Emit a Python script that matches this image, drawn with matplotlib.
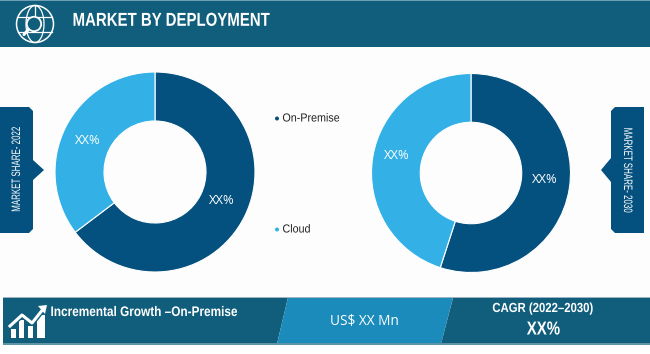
import matplotlib
matplotlib.use("Agg")
import matplotlib.pyplot as plt
from matplotlib.patches import Polygon, Circle, Ellipse
from matplotlib.patheffects import AbstractPathEffect
from matplotlib.transforms import Affine2D

categories = ['On-Premise', 'Cloud']
share_2022 = [64.7, 35.3]
share_2030 = [55.0, 45.0]
slice_labels = ['XX%', 'XX%']
title = 'MARKET BY DEPLOYMENT'
left_tag = 'MARKET SHARE- 2022'
right_tag = 'MARKET SHARE- 2030'
growth_label = 'Incremental Growth \u2013On-Premise'
value_label = 'US$ XX Mn'
cagr_label = 'CAGR (2022\u20132030)'
cagr_value = 'XX%'

DARK = '#04517F'
LIGHT = '#33B1E6'
BAND = '#105E7C'
MID = '#1A8BBB'
W, H = 650, 354
SANS = 'Liberation Sans'


class Condense(AbstractPathEffect):
    """Draws real text narrower along its own baseline, about its centre."""
    def __init__(self, sx):
        super().__init__()
        self.sx = sx

    def draw_path(self, renderer, gc, tpath, affine, rgbFace=None):
        ext = tpath.get_extents()
        mid = (ext.x0 + ext.x1) / 2
        local = Affine2D().translate(-mid, 0).scale(self.sx, 1).translate(mid, 0)
        renderer.draw_path(gc, tpath, local + affine, rgbFace)


fig = plt.figure(figsize=(W/100, H/100), dpi=100, facecolor='#FDFDFD')
bg = fig.add_axes([0, 0, 1, 1])
bg.set_xlim(0, W); bg.set_ylim(H, 0); bg.axis('off')


def poly(pts, color, z=1):
    bg.add_patch(Polygon(pts, closed=True, facecolor=color, edgecolor='none', zorder=z))


def ntext(x, y, s, size, sx, weight='normal', color='white', rotation=0):
    bg.text(x, y, s, color=color, fontsize=size, fontweight=weight, family=SANS,
            va='center', ha='center', rotation=rotation, zorder=6,
            path_effects=[Condense(sx)])


# page strip
poly([(0, 346), (W, 346), (W, H), (0, H)], 'white', 0)

# header
poly([(0, 0), (W, 0), (W, 47), (0, 47)], BAND)
poly([(0, 0), (W, 0), (W, 1.2), (0, 1.2)], '#6F9FB3', 2)
ntext(171, 21.3, title, 13.5, 0.8, 'bold')

# header globe icon
c = (35, 24)
bg.add_patch(Circle(c, 18.5, fill=False, ec='white', lw=1.1, zorder=3))
bg.add_patch(Ellipse(c, 18, 37, fill=False, ec='white', lw=0.9, zorder=3))
bg.plot([c[0], c[0]], [c[1]-18, c[1]-8], color='white', lw=0.9, zorder=3)
bg.plot([18, 52], [17, 17], color='white', lw=0.9, zorder=3)
bg.plot([18, 52], [32, 32], color='white', lw=0.9, zorder=3)
bg.add_patch(Circle((34, 24), 7.2, fc=BAND, ec='white', lw=1.3, zorder=4))
bg.plot([28.5, 24], [29.5, 34.5], color='white', lw=2.2, zorder=4, solid_capstyle='round')

# footer
poly([(3, 297.5), (288, 297.5), (277, 344), (3, 344)], BAND)
poly([(288, 297.5), (453, 297.5), (441, 344), (277, 344)], MID)
poly([(453, 297.5), (W, 297.5), (W, 344), (441, 344)], BAND)
poly([(3, 297), (W, 297), (W, 298), (3, 298)], '#9DB4C0', 2)
poly([(3, 343.4), (W, 343.4), (W, 344.6), (3, 344.6)], '#5E93A8', 2)
ntext(144, 312, growth_label, 10, 0.85, 'bold')
bg.text(364, 321, value_label, color='white', fontsize=9.8, family='Open Sans', va='center', ha='center', zorder=6)
ntext(543, 309, cagr_label, 9.5, 0.86, 'bold')
ntext(543.5, 330, cagr_value, 13.5, 0.8, 'bold')

# growth icon
for x0, x1, t in zip([11, 19, 28, 37], [16, 24, 33, 45], [329, 320, 326, 315]):
    poly([(x0, t), (x1, t), (x1, 338), (x0, 338)], 'white', 3)
bg.plot([10, 22, 32, 44], [326, 315, 323, 308], color=BAND, lw=4.2, zorder=3.5)
bg.plot([10, 22, 32, 44], [326, 315, 323, 308], color='white', lw=2.2, zorder=4)
poly([(38, 306), (47, 305), (45, 314)], 'white', 4)


# side tags
def tag(edge, inner, tip, y0, y1, ym, notch):
    d = 1 if inner > edge else -1
    pts = [(edge, y0), (inner - 4*d, y0), (inner, y0+4), (inner, ym-notch), (tip, ym),
           (inner, ym+notch), (inner, y1-4), (inner - 4*d, y1), (edge, y1)]
    poly(pts, DARK, 2)


tag(0, 33, 44, 107, 233, 170, 10)
tag(644, 611, 601, 107, 233, 170, 12)
ntext(17, 169.5, left_tag, 8.8, 0.65, color='white', rotation=90)
ntext(627, 170, right_tag, 8.8, 0.65, color='white', rotation=270)

# legend
legend_y = [118, 229]
for name, y, col in zip(categories, legend_y, [DARK, LIGHT]):
    bg.add_patch(Circle((277, y + 0.5), 2, fc=col, ec='none', zorder=3))
    bg.text(311 if name == categories[0] else 296.5, y + 0.5, name, color='#222222', fontsize=8.4,
            family=SANS, va='center', ha='center', path_effects=[Condense(0.92)])


def donut(values, cx, cy, r):
    ax = fig.add_axes([(cx-r)/W, 1-(cy+r)/H, 2*r/W, 2*r/H])
    ax.pie(values, colors=[DARK, LIGHT], startangle=90, counterclock=False, radius=1,
           wedgeprops=dict(width=0.49, edgecolor='white', linewidth=0.8))
    ax.set_xlim(-1, 1); ax.set_ylim(-1, 1); ax.set_aspect('equal'); ax.axis('off')
    return ax


donut(share_2022, 155, 172, 100)
donut(share_2030, 471, 173, 99.5)

# labels above the donuts
top = fig.add_axes([0, 0, 1, 1], facecolor='none')
top.set_xlim(0, W); top.set_ylim(H, 0); top.axis('off')
for lab, (x, y) in zip(slice_labels * 2, [(222, 200.5), (88, 140.5), (545, 179.5), (397, 155.5)]):
    top.text(x, y, lab, color='white', fontsize=9.3, family='Open Sans', va='center', ha='center')

fig.savefig('out.png', dpi=100, facecolor=fig.get_facecolor())
